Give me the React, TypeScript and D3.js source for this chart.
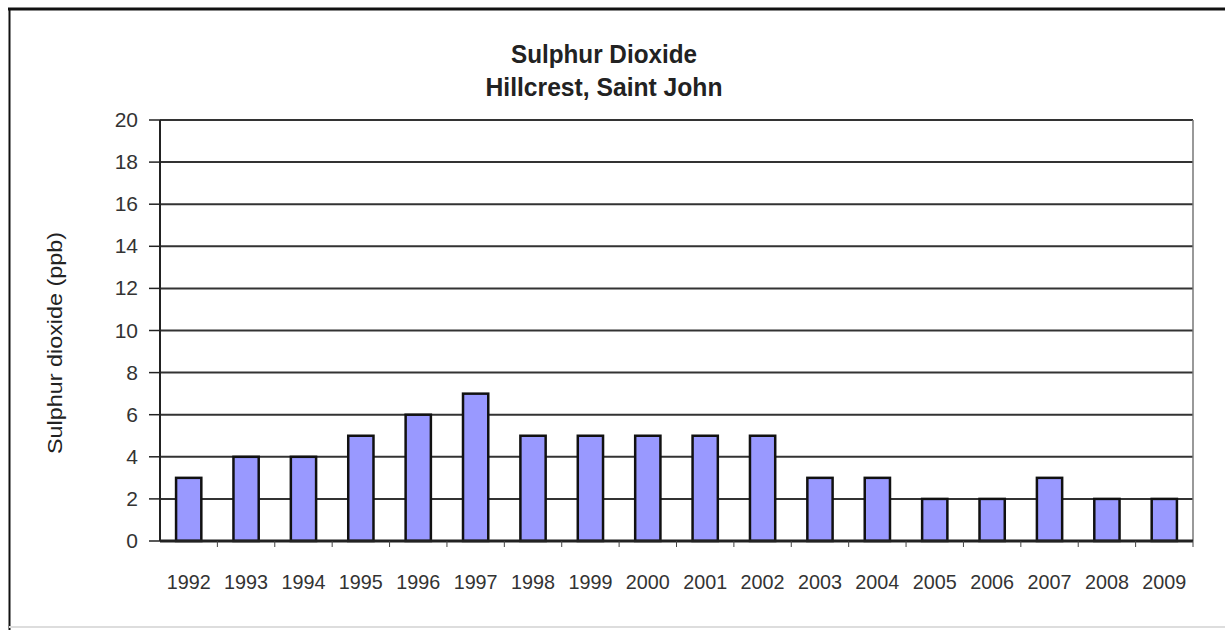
import React from "react";
import * as d3 from "d3";

const years = ["1992","1993","1994","1995","1996","1997","1998","1999","2000","2001","2002","2003","2004","2005","2006","2007","2008","2009"];
const values = [3,4,4,5,6,7,5,5,5,5,5,3,3,2,2,3,2,2];
const yTicks = [0,2,4,6,8,10,12,14,16,18,20];

const W = 1225, H = 630;
const left = 160, right = 1193, top = 120, bottom = 541;

export default function App() {
  const x = d3.scaleBand<string>().domain(years).range([left, right]).paddingInner(0.56).paddingOuter(0.28);
  const y = d3.scaleLinear().domain([0, 20]).range([bottom, top]);
  const band = (right - left) / years.length;
  const font = "Arial, 'Liberation Sans', sans-serif";
  return (
    <svg width={W} height={H} style={{ position: "absolute", left: 0, top: 0, background: "#fff" }}>
      <rect x={0} y={0} width={W} height={H} fill="#fff" />
      {/* frame */}
      <line x1={8} y1={9} x2={W} y2={9} stroke="#111" strokeWidth={3} />
      <line x1={9.5} y1={8} x2={9.5} y2={H} stroke="#111" strokeWidth={2} />
      <line x1={9} y1={627} x2={W} y2={627} stroke="#ddd" strokeWidth={2} />
      {/* title */}
      <text x={604} y={63} textAnchor="middle" fontFamily={font} fontWeight="bold" fontSize={25} fill="#222" textLength={186} lengthAdjust="spacingAndGlyphs">Sulphur Dioxide</text>
      <text x={604} y={96} textAnchor="middle" fontFamily={font} fontWeight="bold" fontSize={25} fill="#222" textLength={237} lengthAdjust="spacingAndGlyphs">Hillcrest, Saint John</text>
      {/* gridlines */}
      {yTicks.filter(t => t > 0).map(t => (
        <line key={t} x1={left} x2={right} y1={y(t)} y2={y(t)} stroke="#333" strokeWidth={2} />
      ))}
      {/* right border */}
      <line x1={right} x2={right} y1={top} y2={bottom} stroke="#777" strokeWidth={1.5} />
      {/* bars */}
      {values.map((v, i) => (
        <rect key={years[i]} x={x(years[i])} y={y(v)} width={x.bandwidth()} height={bottom - y(v)}
          fill="#9999ff" stroke="#111" strokeWidth={2.5} />
      ))}
      {/* y axis */}
      <line x1={left} x2={left} y1={top} y2={bottom} stroke="#222" strokeWidth={2} />
      {yTicks.map(t => (
        <g key={t}>
          <line x1={left - 11} x2={left} y1={y(t)} y2={y(t)} stroke="#222" strokeWidth={1.5} />
          <text x={138} y={y(t) + 7} textAnchor="end" fontFamily={font} fontSize={21} fill="#333">{t}</text>
        </g>
      ))}
      {/* x axis */}
      <line x1={left} x2={right} y1={bottom} y2={bottom} stroke="#222" strokeWidth={3} />
      {years.map((yr, i) => (
        <line key={"t" + yr} x1={left + band * (i + 1)} x2={left + band * (i + 1)} y1={bottom} y2={bottom + 6} stroke="#444" strokeWidth={1} />
      ))}
      {years.map(yr => (
        <text key={"l" + yr} x={(x(yr) as number) + x.bandwidth() / 2} y={589} textAnchor="middle" fontFamily={font} fontSize={21} fill="#333" textLength={44} lengthAdjust="spacingAndGlyphs">{yr}</text>
      ))}
      <text transform={`translate(62,${343}) rotate(-90)`} textAnchor="middle" fontFamily={font} fontSize={21} fill="#222" textLength={222} lengthAdjust="spacingAndGlyphs">Sulphur dioxide (ppb)</text>
    </svg>
  );
}
